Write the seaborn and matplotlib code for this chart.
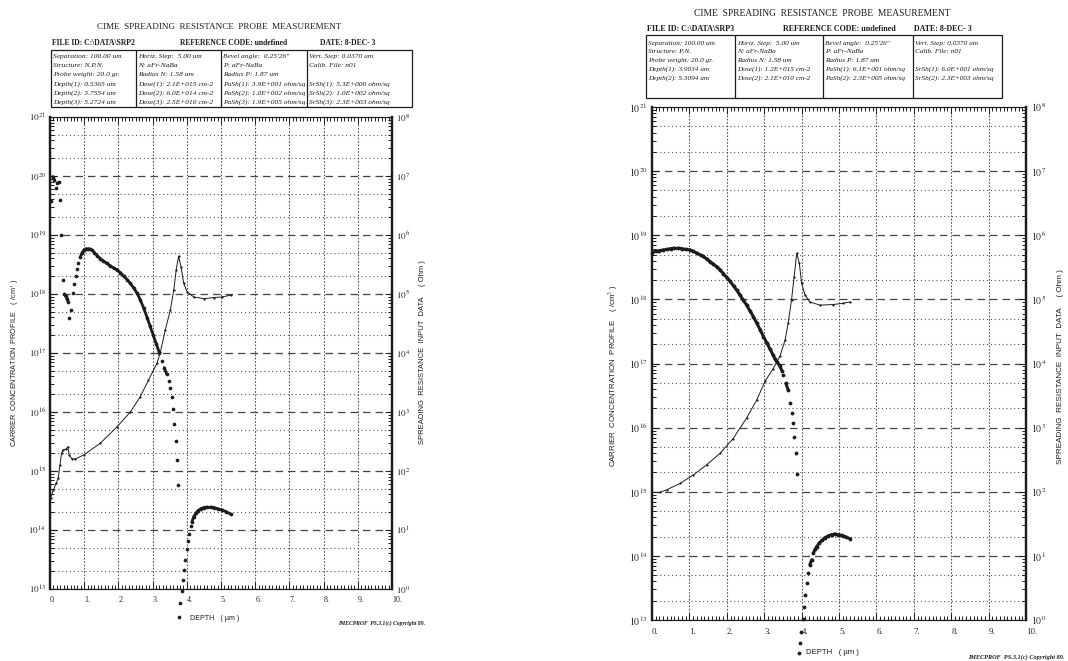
import matplotlib
matplotlib.use("Agg")
import matplotlib.pyplot as plt
import matplotlib.ticker as mticker
from matplotlib.patches import Rectangle
from matplotlib.lines import Line2D
import numpy as np
import seaborn as sns

sns.set_style("white")
plt.rcParams["font.family"] = ["Liberation Serif", "DejaVu Serif"]
plt.rcParams["mathtext.fontset"] = "stix"

# ---------------- SRP2 (left sheet) ----------------
# carrier concentration: depth (um) and log10(/cm3)
srp2_cc_depth = [0.02, 0.08, 0.13, 0.18, 0.21, 0.26, 0.29, 0.32, 0.37, 0.42, 0.46, 0.50, 0.53, 0.56,
                 0.61, 0.66, 0.70, 0.75, 0.79, 0.83, 0.88, 0.94, 1.00, 1.06, 1.12, 1.18, 1.24, 1.30,
                 1.38, 1.47, 1.56, 1.66, 1.76, 1.86, 1.96, 2.06, 2.16, 2.26, 2.35, 2.45, 2.55, 2.64,
                 2.74, 2.84, 2.93, 3.02, 3.11, 3.20, 3.27, 3.34, 3.41, 3.47, 3.52, 3.57, 3.60, 3.64,
                 3.67, 3.70, 3.74, 3.78, 3.81, 3.85, 3.89, 3.92, 3.96, 4.00, 4.04, 4.07, 4.11, 4.15,
                 4.20, 4.26, 4.33, 4.41, 4.50, 4.60, 4.70, 4.79, 4.90, 5.03, 5.15, 5.28]
srp2_cc_log = [19.58, 19.99, 19.93, 19.80, 19.88, 19.89, 19.60, 19.00, 18.24, 18.00, 17.96, 17.92, 17.87, 17.59,
               17.73, 18.02, 18.17, 18.31, 18.43, 18.52, 18.62, 18.70, 18.75, 18.77, 18.77, 18.76, 18.74, 18.70,
               18.65, 18.60, 18.56, 18.52, 18.48, 18.44, 18.41, 18.36, 18.30, 18.24, 18.18, 18.10, 18.01, 17.90,
               17.76, 17.60, 17.45, 17.30, 17.15, 17.00, 16.87, 16.75, 16.64, 16.53, 16.40, 16.26, 16.05, 15.80,
               15.51, 15.18, 14.77, 12.53, 12.77, 12.97, 13.15, 13.33, 13.50, 13.67, 13.82, 13.94, 14.06, 14.14,
               14.22, 14.28, 14.33, 14.36, 14.38, 14.39, 14.39, 14.38, 14.36, 14.34, 14.31, 14.27]
# spreading resistance: depth (um) and log10(Ohm)
srp2_sr_depth = [0.02, 0.10, 0.18, 0.24, 0.29, 0.34, 0.39, 0.47, 0.52, 0.56, 0.64, 0.73, 0.98, 1.47, 1.96,
                 2.35, 2.64, 2.88, 3.13, 3.23, 3.37, 3.52, 3.62, 3.69, 3.76, 3.83, 3.91, 4.01, 4.20, 4.50,
                 4.79, 5.03, 5.28]
srp2_sr_log = [1.55, 1.68, 1.79, 1.88, 2.10, 2.31, 2.36, 2.37, 2.41, 2.27, 2.21, 2.20, 2.27, 2.47, 2.75,
               3.00, 3.26, 3.54, 3.83, 4.02, 4.39, 4.73, 5.07, 5.41, 5.64, 5.46, 5.18, 5.04, 4.95, 4.92,
               4.94, 4.95, 4.98]
srp2_header = [r"FILE ID: C:\DATA\SRP2", "REFERENCE CODE: undefined", "DATE: 8-DEC- 3"]
srp2_table = [
    ["Separation: 100.00 um", "Structure: N.P.N.", "Probe weight: 20.0 gr.",
     "Depth(1): 0.5365 um", "Depth(2): 3.7554 um", "Depth(3): 5.2724 um"],
    ["Horiz. Step:  5.00 um", "N: aFr-NaBa", "Radius N: 1.58 um",
     "Dose(1): 2.1E+015 cm-2", "Dose(2): 6.0E+014 cm-2", "Dose(3): 2.5E+010 cm-2"],
    ["Bevel angle:  0.25'26\"", "P: aFr-NaBa", "Radius P: 1.87 um",
     "PaSh(1): 3.9E+001 ohm/sq", "PaSh(2): 1.0E+002 ohm/sq", "PaSh(3): 1.9E+005 ohm/sq"],
    ["Vert. Step: 0.0370 um", "Calib. File: n01", "",
     "SrSh(1): 5.3E+000 ohm/sq", "SrSh(2): 1.0E+002 ohm/sq", "SrSh(3): 2.3E+003 ohm/sq"],
]

# ---------------- SRP3 (right sheet) ----------------
srp3_cc_depth = [0.00, 0.10, 0.20, 0.30, 0.40, 0.50, 0.60, 0.70, 0.80, 0.90, 1.02, 1.10, 1.20, 1.30, 1.37,
                 1.46, 1.55, 1.64, 1.73, 1.82, 1.91, 2.00, 2.09, 2.18, 2.27, 2.35, 2.44, 2.53, 2.62, 2.71,
                 2.80, 2.89, 2.98, 3.07, 3.16, 3.24, 3.29, 3.35, 3.42, 3.47, 3.51, 3.58, 3.64, 3.69, 3.73,
                 3.78, 3.80, 3.85, 3.89, 3.93, 3.96, 3.99, 4.03, 4.06, 4.10, 4.14, 4.18, 4.22, 4.27, 4.31,
                 4.36, 4.40, 4.47, 4.54, 4.62, 4.71, 4.80, 4.89, 4.98, 5.06, 5.12, 5.20, 5.29]
srp3_cc_log = [18.73, 18.75, 18.76, 18.77, 18.78, 18.79, 18.80, 18.80, 18.79, 18.78, 18.77, 18.75, 18.72, 18.69, 18.67,
               18.63, 18.59, 18.55, 18.51, 18.46, 18.40, 18.34, 18.28, 18.21, 18.14, 18.07, 17.99, 17.91, 17.82, 17.73,
               17.63, 17.53, 17.42, 17.32, 17.22, 17.13, 17.07, 17.02, 16.96, 16.89, 16.82, 16.69, 16.59, 16.38, 16.23,
               16.07, 15.86, 15.60, 15.27, 12.48, 12.64, 12.82, 13.01, 13.20, 13.39, 13.58, 13.74, 13.86, 13.94, 14.04,
               14.10, 14.14, 14.20, 14.24, 14.28, 14.31, 14.33, 14.34, 14.33, 14.32, 14.31, 14.29, 14.27]
srp3_sr_depth = [0.00, 0.21, 0.39, 0.75, 1.10, 1.46, 1.82, 2.17, 2.53, 2.80, 3.02, 3.24, 3.42, 3.56, 3.64,
                 3.73, 3.80, 3.87, 3.94, 4.00, 4.09, 4.22, 4.49, 4.85, 5.12, 5.29]
srp3_sr_log = [1.99, 1.99, 2.03, 2.13, 2.26, 2.42, 2.60, 2.83, 3.15, 3.43, 3.72, 3.92, 4.11, 4.37, 4.63,
               4.99, 5.35, 5.72, 5.56, 5.25, 5.07, 4.96, 4.91, 4.92, 4.94, 4.96]
srp3_header = [r"FILE ID: C:\DATA\SRP3", "REFERENCE CODE: undefined", "DATE: 8-DEC- 3"]
srp3_table = [
    ["Separation: 100.00 um", "Structure: P.N.", "Probe weight: 20.0 gr.",
     "Depth(1): 3.9034 um", "Depth(2): 5.3094 um"],
    ["Horiz. Step:  5.00 um", "N: aFr-NaBa", "Radius N: 1.58 um",
     "Dose(1): 1.2E+015 cm-2", "Dose(2): 2.1E+010 cm-2"],
    ["Bevel angle:  0.25'26\"", "P: aFr-NaBa", "Radius P: 1.87 um",
     "PaSh(1): 6.1E+001 ohm/sq", "PaSh(2): 2.3E+005 ohm/sq"],
    ["Vert. Step: 0.0370 um", "Calib. File: n01", "",
     "SrSh(1): 6.0E+001 ohm/sq", "SrSh(2): 2.3E+003 ohm/sq"],
]

title = "CIME  SPREADING  RESISTANCE  PROBE  MEASUREMENT"
left_label = "CARRIER  CONCENTRATION  PROFILE    ( /cm$^3$ )"
right_label = "SPREADING  RESISTANCE  INPUT  DATA     ( Ohm )"
x_label = "DEPTH   ( \u00b5m )"
footer = "IMECPROF  PS.3.1(c) Copyright 89."
x_ticks = list(range(11))
cc_decades = list(range(13, 22))
sr_decades = list(range(0, 9))

W, H = 1068, 661
fig = plt.figure(figsize=(W / 100, H / 100), dpi=100)
renderer = fig.canvas.get_renderer()
INK = "#1c1c1c"
SANS = ["Liberation Sans", "DejaVu Sans"]


def fx(x):
    return x / W


def fy(y):
    return 1 - y / H


def fit_text(x, y, s, length, vertical=False, **kw):
    # place text at pixel (x, y) and scale its font so it spans `length` pixels
    t = fig.text(fx(x), fy(y), s, **kw)
    bb = t.get_window_extent(renderer)
    cur = bb.height if vertical else bb.width
    t.set_fontsize(t.get_fontsize() * length / cur)
    return t


def log_ticks(decades):
    major = [10.0 ** d for d in decades]
    minor = [m * 10.0 ** d for d in decades[:-1] for m in range(2, 10)]
    return major, minor


def draw_sheet(lay, cc_d, cc_l, sr_d, sr_l, header, table):
    k = lay["k"]
    x0, y0, x1, y1 = lay["axes"]
    ax = fig.add_axes([fx(x0), fy(y1), (x1 - x0) / W, (y1 - y0) / H])
    ax.set_yscale("log")
    ax.set_xlim(0, 10)
    ax.set_ylim(10.0 ** cc_decades[0], 10.0 ** cc_decades[-1])
    ax2 = ax.twinx()
    ax2.set_yscale("log")
    ax2.set_ylim(10.0 ** sr_decades[0], 10.0 ** sr_decades[-1])

    # grid: dashed decades, dotted 2 and 5, dotted verticals
    ax.grid(False)
    ax2.grid(False)
    for d in cc_decades[:-1]:
        ax.axhline(10.0 ** d, color="#444", lw=0.9, ls=(0, (6, 4)), zorder=0)
        ax.axhline(2 * 10.0 ** d, color="#555", lw=0.8, ls=(0, (1, 2.5)), zorder=0)
        ax.axhline(5 * 10.0 ** d, color="#555", lw=0.8, ls=(0, (1, 2.5)), zorder=0)
    for t in x_ticks[1:-1]:
        ax.axvline(t, color="#555", lw=0.8, ls=(0, (1.5, 1.5)), zorder=0)

    # carrier concentration: dots, fused into a band where the profile is flat enough
    cc_y = 10.0 ** np.array(cc_l)
    sns.scatterplot(x=cc_d, y=cc_y, ax=ax, s=7 * k, color=INK,
                    linewidth=0, clip_on=False, zorder=3)
    pts = ax.transData.transform(np.column_stack([cc_d, cc_y]))
    dx, dy = np.abs(np.diff(pts, axis=0)).T
    fused = (dx < 5.5 * k) & (dy < 2.95 * np.maximum(dx, 0.1))
    for i in np.flatnonzero(fused):
        ax.plot(cc_d[i:i + 2], cc_y[i:i + 2], color=INK, lw=2.0 * k,
                solid_capstyle="round", zorder=3)

    # spreading resistance: thin line with small dots
    sns.lineplot(x=sr_d, y=10.0 ** np.array(sr_l), ax=ax2, color=INK, lw=0.7,
                 marker="o", markersize=1.6, markeredgewidth=0, estimator=None, sort=False)

    for a in (ax, ax2):
        a.set_xlabel("")
        a.set_ylabel("")
        for s in a.spines.values():
            s.set_color(INK)
            s.set_linewidth(0.8)
        a.spines["left"].set_linewidth(1.6)
        a.spines["right"].set_linewidth(1.6)

    ax.xaxis.set_major_locator(mticker.FixedLocator(x_ticks))
    ax.xaxis.set_minor_locator(mticker.MultipleLocator(0.1))
    ax.set_xticklabels([f"{t}." for t in x_ticks], ha="left")
    ax.tick_params(axis="x", which="both", direction="in", top=True, bottom=True,
                   color=INK, width=0.7, labelsize=5.8 * k, pad=5 * k)
    ax.tick_params(axis="x", which="major", length=5)
    ax.tick_params(axis="x", which="minor", length=3)

    fmt = mticker.FuncFormatter(lambda v, p: r"$10^{%d}$" % round(np.log10(v)))
    for a, decades, side in ((ax, cc_decades, "left"), (ax2, sr_decades, "right")):
        major, minor = log_ticks(decades)
        a.yaxis.set_major_locator(mticker.FixedLocator(major))
        a.yaxis.set_minor_locator(mticker.FixedLocator(minor))
        a.yaxis.set_major_formatter(fmt)
        a.yaxis.set_minor_formatter(mticker.NullFormatter())
        a.tick_params(axis="y", which="both", direction="in", color=INK, width=0.7,
                      labelsize=6.5 * k, pad=3 * k,
                      left=(side == "left"), right=(side == "right"),
                      labelleft=(side == "left"), labelright=(side == "right"))
        a.tick_params(axis="y", which="major", length=5)
        a.tick_params(axis="y", which="minor", length=3)

    # title, header row, parameter table
    fit_text(*lay["title"], title, lay["title_w"], ha="center", va="center", color=INK)
    hd = fit_text(lay["head_x"][0], lay["head_y"], header[0], lay["head_w"],
                  ha="left", va="center", fontweight="bold", color=INK)
    for hx, txt in zip(lay["head_x"][1:], header[1:]):
        fig.text(fx(hx), fy(lay["head_y"]), txt, ha="left", va="center",
                 fontsize=hd.get_fontsize(), fontweight="bold", color=INK)

    tx0, ty0, tx1, ty1 = lay["table"]
    fig.add_artist(Rectangle((fx(tx0), fy(ty1)), (tx1 - tx0) / W, (ty1 - ty0) / H,
                             transform=fig.transFigure, fill=False, lw=0.9, ec=INK))
    for cx in lay["cols"][1:-1]:
        fig.add_artist(Line2D([fx(cx), fx(cx)], [fy(ty0), fy(ty1)],
                              transform=fig.transFigure, lw=0.9, color=INK))
    cell = fit_text(lay["cols"][0] + 2, lay["row0"], table[0][0], lay["cell_w"],
                    ha="left", va="center", style="italic", color=INK)
    for c, (col, cx) in enumerate(zip(table, lay["cols"][:-1])):
        for r, txt in enumerate(col):
            if c == 0 and r == 0:
                continue
            fig.text(fx(cx + 2), fy(lay["row0"] + r * lay["row_step"]), txt, ha="left",
                     va="center", fontsize=cell.get_fontsize(), style="italic", color=INK)

    # axis titles and footer
    fit_text(*lay["ylab_l"], left_label, lay["ylab_l_len"], vertical=True, rotation=90,
             ha="center", va="center", family=SANS, color=INK)
    fit_text(*lay["ylab_r"], right_label, lay["ylab_r_len"], vertical=True, rotation=90,
             ha="center", va="center", family=SANS, color=INK)
    fit_text(*lay["xlab"], x_label, lay["xlab_w"], ha="center", va="center",
             family=SANS, color=INK)
    fit_text(*lay["foot"], footer, lay["foot_w"], ha="left", va="center",
             style="italic", fontweight="bold", color=INK)


left_layout = dict(k=1.0, axes=(50, 117, 392, 589),
                   title=(219, 27), title_w=246,
                   head_x=(52, 180, 320), head_y=43, head_w=83,
                   table=(51, 50, 412, 107), cols=(51, 136, 221, 307, 412),
                   row0=56.5, row_step=9.2, cell_w=68,
                   ylab_l=(15, 363), ylab_l_len=168, ylab_r=(422, 352), ylab_r_len=185,
                   xlab=(215, 618), xlab_w=49, foot=(338, 623), foot_w=87)
right_layout = dict(k=1.09, axes=(652, 107, 1026, 620),
                    title=(822, 13), title_w=257,
                    head_x=(647, 783, 914), head_y=29, head_w=87,
                    table=(646, 35, 1002, 98), cols=(646, 735, 823, 913, 1002),
                    row0=43, row_step=8.8, cell_w=67,
                    ylab_l=(613, 376), ylab_l_len=182, ylab_r=(1060, 367), ylab_r_len=197,
                    xlab=(832, 653), xlab_w=53, foot=(968, 657), foot_w=97)

draw_sheet(left_layout, srp2_cc_depth, srp2_cc_log, srp2_sr_depth, srp2_sr_log, srp2_header, srp2_table)
draw_sheet(right_layout, srp3_cc_depth, srp3_cc_log, srp3_sr_depth, srp3_sr_log, srp3_header, srp3_table)

fig.savefig("out.png", dpi=100)
